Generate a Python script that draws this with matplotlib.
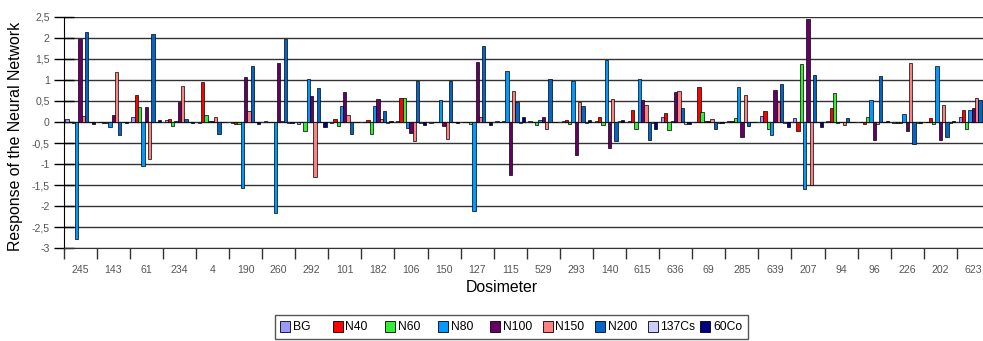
import matplotlib
matplotlib.use("Agg")
import matplotlib.pyplot as plt
import numpy as np
from matplotlib.patches import Rectangle

plt.rcParams["font.family"] = ["Liberation Sans", "DejaVu Sans"]

dosimeters = ["245", "143", "61", "234", "4", "190", "260", "292", "101", "182",
              "106", "150", "127", "115", "529", "293", "140", "615", "636", "69",
              "285", "639", "207", "94", "96", "226", "202", "623"]

bg = [0.08, -0.01, 0.12, 0.05, -0.02, -0.02, 0.02, -0.05, -0.02, 0.01, 0.02, -0.02, 0.01, 0.02,
      0.02, 0.02, 0.02, 0.03, 0.12, -0.01, 0.03, 0.13, 0.09, 0.02, 0.01, -0.02, -0.01, 0.12]
n40 = [0.01, -0.02, 0.64, 0.08, 0.94, -0.04, 0.01, 0.01, 0.08, 0.05, 0.56, 0.01, 0.01, 0.01,
       0.01, 0.05, 0.11, 0.29, 0.21, 0.82, 0.02, 0.25, -0.22, 0.32, -0.05, -0.02, 0.09, 0.29]
n60 = [-0.03, -0.03, 0.36, -0.09, 0.17, -0.06, -0.01, -0.22, -0.10, -0.28, 0.56, 0.01, -0.05, 0.02,
       -0.07, -0.04, -0.07, -0.17, -0.18, 0.24, 0.09, -0.17, 1.38, 0.68, 0.11, -0.02, -0.05, -0.17]
n80 = [-2.78, -0.12, -1.05, 0.02, 0.02, -1.57, -2.16, 1.02, 0.37, 0.39, -0.14, 0.51, -2.11, 1.22,
       0.04, 0.98, 1.46, 1.02, 0.02, 0.02, 0.82, -0.30, -1.59, -0.03, 0.51, 0.19, 1.32, 0.29]
n100 = [1.98, 0.16, 0.36, 0.48, 0.02, 1.07, 1.40, 0.61, 0.71, 0.55, -0.25, -0.09, 1.42, -1.25,
        0.11, -0.78, -0.62, 0.51, 0.72, 0.02, -0.36, 0.77, 2.45, 0.01, -0.42, -0.22, -0.42, 0.33]
n150 = [0.13, 1.18, -0.88, 0.85, 0.11, 0.25, 0.02, -1.31, 0.16, 0.06, -0.46, -0.40, 0.11, 0.74,
        -0.17, 0.48, 0.55, 0.40, 0.74, 0.06, 0.64, 0.47, -1.49, -0.07, -0.05, 1.40, 0.40, 0.56]
n200 = [2.13, -0.32, 2.10, 0.08, -0.28, 1.32, 1.98, 0.81, -0.28, 0.26, 0.98, 0.98, 1.80, 0.48,
        1.02, 0.39, -0.44, -0.42, 0.32, -0.17, -0.09, 0.89, 1.12, 0.09, 1.08, -0.52, -0.36, 0.51]
cs137 = [0.0, 0.0, 0.01, 0.0, -0.01, 0.0, -0.03, 0.0, -0.01, -0.03, -0.03, 0.0, 0.0, -0.02,
         0.0, -0.03, 0.03, -0.02, -0.04, -0.02, 0.0, -0.02, 0.0, 0.0, 0.0, -0.02, -0.02, 0.0]
co60 = [-0.04, -0.02, 0.05, -0.02, -0.01, -0.04, -0.03, -0.13, -0.01, 0.02, -0.08, -0.02, -0.07, 0.11,
        -0.01, 0.05, 0.05, -0.17, -0.04, -0.02, 0.0, -0.12, -0.12, 0.0, 0.02, -0.02, 0.02, 0.0]

series_names = ["BG", "N40", "N60", "N80", "N100", "N150", "N200", "137Cs", "60Co"]
series_values = [bg, n40, n60, n80, n100, n150, n200, cs137, co60]
colors = ["#9999FF", "#FF0000", "#33EE33", "#0099FF", "#660066", "#FF8080", "#0066CC", "#CCCCFF", "#000080"]

W, H = 983, 341


def fx(px):
    return px / W


def fy(py):
    return 1 - py / H


fig = plt.figure(figsize=(W / 100, H / 100), dpi=100)
ax_left, ax_right, ax_top, ax_bottom = 63.6, 990.0, 16.7, 248.3
ax = fig.add_axes([fx(ax_left), fy(ax_bottom), (ax_right - ax_left) / W, (ax_bottom - ax_top) / H])

x = np.arange(len(dosimeters))
bw = 0.1
for i, (name, vals, col) in enumerate(zip(series_names, series_values, colors)):
    ax.bar(x - 0.4 + bw * i, vals, width=bw, color=col, edgecolor="black", linewidth=0.5, zorder=3)

ax.set_xlim(-0.5, len(dosimeters) - 0.5)
ax.set_ylim(-3, 2.5)
yt = np.arange(-3, 2.51, 0.5)
ax.set_yticks(yt)
ax.set_yticklabels([f"{v:g}".replace(".", ",") for v in yt])
ax.yaxis.grid(True, color="#333333", linewidth=1.0, zorder=0)
ax.set_axisbelow(True)

ax.set_xticks(np.arange(len(dosimeters) + 1) - 0.5)
ax.set_xticklabels([])
ax.set_xticks(x, minor=True)
ax.set_xticklabels(dosimeters, minor=True)
ax.tick_params(axis="x", which="major", direction="out", length=8, width=1, color="#333333")
ax.tick_params(axis="x", which="minor", length=0, pad=12, labelsize=7.6, labelcolor="#555555")
ax.tick_params(axis="y", direction="inout", length=14, width=1, color="black",
               labelsize=7.6, labelcolor="#555555", pad=3)

for s in ["top", "right"]:
    ax.spines[s].set_visible(False)
ax.spines["left"].set_color("black")
ax.spines["bottom"].set_color("#333333")

fig.text(fx(16), fy(136), "Response of the Neural Network", rotation=90,
         ha="center", va="center", fontsize=11.4)
fig.text(fx(502), fy(288), "Dosimeter", ha="center", va="center", fontsize=11.4)

# legend box along the bottom
fig.add_artist(Rectangle((fx(275), fy(339)), (748 - 275) / W, (339 - 315) / H,
                         transform=fig.transFigure, facecolor="white", edgecolor="#555555", linewidth=1))
for i, (name, col) in enumerate(zip(series_names, colors)):
    hx = 280 + 52.5 * i
    fig.add_artist(Rectangle((fx(hx), fy(332)), 10 / W, 11 / H, transform=fig.transFigure,
                             facecolor=col, edgecolor="black", linewidth=0.6))
    fig.text(fx(hx + 13), fy(327), name, ha="left", va="center", fontsize=8.7)

fig.savefig("out.png", dpi=100)
